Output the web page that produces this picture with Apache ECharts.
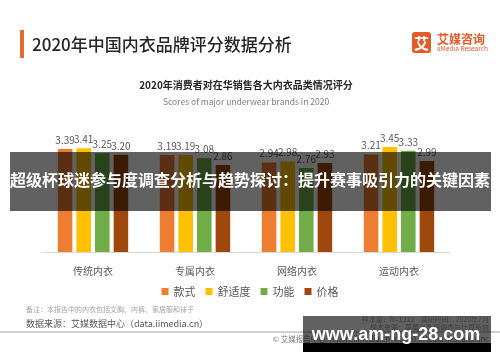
<!DOCTYPE html>
<html>
<head>
<meta charset="utf-8">
<script src="https://cdn.jsdelivr.net/npm/echarts@6/dist/echarts.min.js"></script>
<style>
html,body{margin:0;padding:0;background:#fff;}
#chart{width:500px;height:362px;}
</style>
</head>
<body>
<div id="chart"></div>
<script>
const categories = ['传统内衣', '专属内衣', '网络内衣', '运动内衣'];
const seriesNames = ['款式', '舒适度', '功能', '价格'];
const styleScores = [3.39, 3.19, 2.94, 3.21];
const comfortScores = [3.41, 3.19, 2.98, 3.45];
const functionScores = [3.25, 3.08, 2.76, 3.33];
const priceScores = [3.20, 2.86, 2.93, 2.99];
const seriesColors = ['#ED7D31', '#FFC000', '#70AD47', '#9E480E'];

const FONT = '"Noto Sans CJK SC", "Noto Sans", sans-serif';
const allData = [styleScores, comfortScores, functionScores, priceScores];

const chart = echarts.init(document.getElementById('chart'), null, {renderer: 'canvas'});

const series = seriesNames.map((name, i) => ({
  name: name,
  type: 'bar',
  data: allData[i],
  barGap: '28%',
  barCategoryGap: '31%',
  itemStyle: {color: seriesColors[i]},
  label: {
    show: true,
    position: 'top',
    distance: 4,
    fontSize: 10,
    fontFamily: FONT,
    color: '#595959',
    formatter: p => p.value.toFixed(2)
  }
}));

const option = {
  backgroundColor: '#ffffff',
  animation: false,
  textStyle: {fontFamily: FONT},
  grid: {left: 42, right: 50, top: 100, bottom: 110},
  xAxis: {
    type: 'category',
    data: categories,
    axisLine: {lineStyle: {color: '#d9d9d9'}},
    axisTick: {show: false},
    axisLabel: {color: '#595959', fontSize: 10, margin: 14, fontFamily: FONT}
  },
  yAxis: {type: 'value', min: 0, max: 5, show: false},
  legend: {
    data: seriesNames,
    top: 286,
    left: 'center',
    icon: 'rect',
    itemWidth: 7,
    itemHeight: 7,
    itemGap: 10,
    padding: 0,
    textStyle: {fontSize: 11, color: '#595959', fontFamily: FONT}
  },
  series: series,
  graphic: [
    {type: 'rect', shape: {x: 20, y: 30, width: 4, height: 28}, style: {fill: '#E8692E'}},
    {type: 'text', x: 32, y: 45, style: {text: '2020年中国内衣品牌评分数据分析', font: '500 17px ' + FONT, fill: '#262626', textVerticalAlign: 'middle'}},
    {type: 'rect', shape: {x: 412, y: 32, width: 19, height: 21, r: 3}, style: {fill: '#E35A2B'}},
    {type: 'text', x: 421.5, y: 43, style: {text: '艾', font: 'bold 15px ' + FONT, fill: '#ffffff', textAlign: 'center', textVerticalAlign: 'middle'}},
    {type: 'text', x: 437, y: 39, style: {text: '艾媒咨询', font: 'bold 12px ' + FONT, fill: '#E35A2B', textVerticalAlign: 'middle'}},
    {type: 'text', x: 437, y: 49, style: {text: 'iiMedia Research', font: '6.5px ' + FONT, fill: '#E35A2B', textVerticalAlign: 'middle'}},
    {type: 'text', x: 246, y: 85, style: {text: '2020年消费者对在华销售各大内衣品类情况评分', font: 'bold 10px ' + FONT, fill: '#262626', textAlign: 'center', textVerticalAlign: 'middle'}},
    {type: 'text', x: 246, y: 102, style: {text: 'Scores of major underwear brands in 2020', font: '8.5px ' + FONT, fill: '#7f7f7f', textAlign: 'center', textVerticalAlign: 'middle'}},
    {type: 'text', x: 26, y: 309, style: {text: '备注：本报告中的内衣包括文胸、内裤、家居服和袜子', font: '7px ' + FONT, fill: '#a6a6a6', textVerticalAlign: 'middle'}},
    {type: 'text', x: 26, y: 324, style: {text: '数据来源：艾媒数据中心（data.iimedia.cn）', font: '9px ' + FONT, fill: '#595959', textVerticalAlign: 'middle'}},
    {type: 'line', shape: {x1: 0, y1: 332, x2: 500, y2: 332}, style: {stroke: '#bfbfbf', lineWidth: 1.5}},
    {type: 'text', x: 489, y: 319, style: {text: '样本量：N=1222    调研时间：2020年7月', font: '7px ' + FONT, fill: '#a6a6a6', textAlign: 'right', textVerticalAlign: 'middle'}},
    {type: 'text', x: 489, y: 327, style: {text: '样本来源：草莓派数据调查与计算系统', font: '7px ' + FONT, fill: '#a6a6a6', textAlign: 'right', textVerticalAlign: 'middle'}},
    {type: 'text', x: 489, y: 339, style: {text: '© 艾媒报告中心: report.iimedia.cn  ©2020 iiMedia Research Inc', font: '7.5px ' + FONT, fill: '#7f7f7f', textAlign: 'right', textVerticalAlign: 'middle'}},
    {type: 'rect', z: 100, shape: {x: 10, y: 152, width: 481, height: 59}, style: {fill: 'rgba(0,0,0,0.62)'}},
    {type: 'text', z: 101, x: 250, y: 180, style: {text: '超级杯球迷参与度调查分析与趋势探讨：提升赛事吸引力的关键因素', font: 'bold 16px ' + FONT, fill: '#ffffff', textAlign: 'center', textVerticalAlign: 'middle'}},
    {type: 'rect', z: 100, shape: {x: 303, y: 316, width: 188, height: 27}, style: {fill: 'rgba(0,0,0,0.62)'}},
    {type: 'rect', z: 100, shape: {x: 303, y: 343, width: 188, height: 9}, style: {fill: '#000000'}},
    {type: 'text', z: 101, x: 396, y: 335, style: {text: 'www.am-ng-28.com', font: 'bold 18px "Liberation Sans", Arial, sans-serif', fill: '#ffffff', textAlign: 'center', textVerticalAlign: 'middle'}}
  ]
};

chart.setOption(option);
</script>
</body>
</html>
